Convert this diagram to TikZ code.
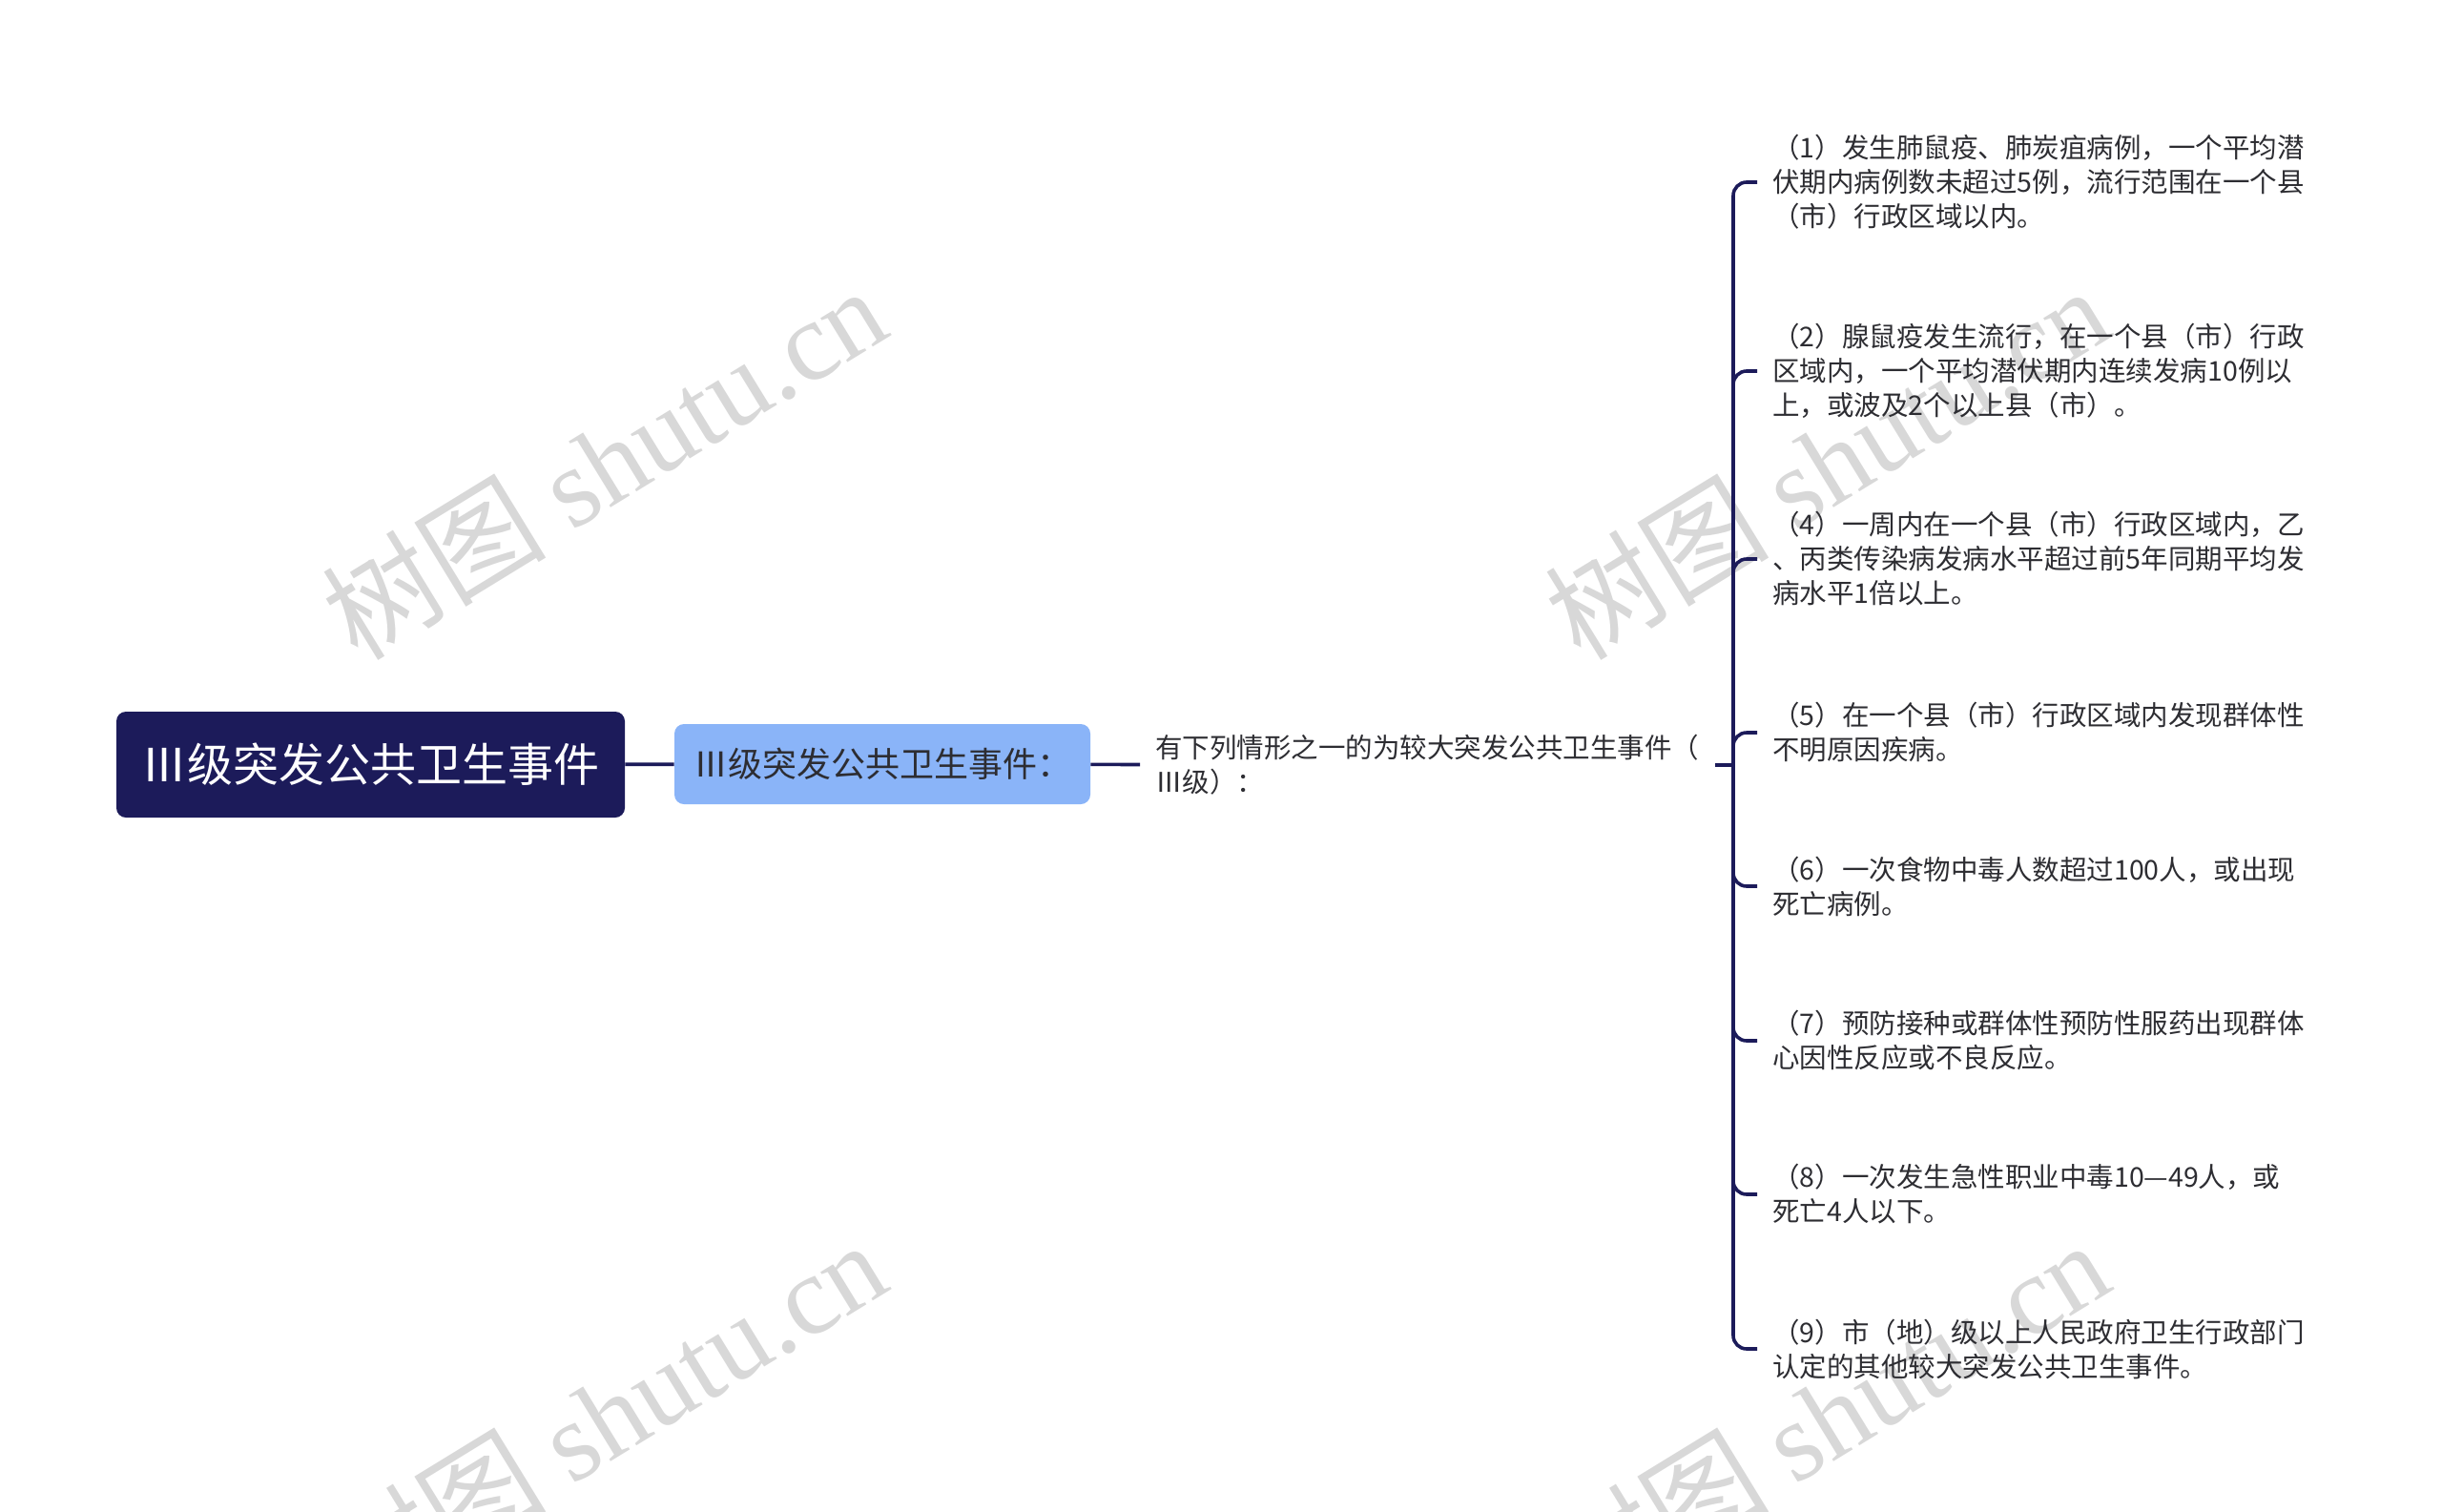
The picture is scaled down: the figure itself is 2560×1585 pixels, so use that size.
\documentclass[tikz,border=0pt]{standalone}
\usepackage{fontspec}
\setmainfont{Noto Sans CJK SC}
\newfontfamily\wmfont{Liberation Serif}
\definecolor{navy}{RGB}{28,27,90}
\definecolor{skyblue}{RGB}{138,180,248}
\definecolor{wmgray}{RGB}{216,216,216}
\definecolor{inkgray}{RGB}{45,45,50}

\begin{document}
\begin{tikzpicture}[x=0.5pt,y=-0.5pt]

%FRAME
\useasboundingbox (0,0) rectangle (2560,1585);

%WATERMARK
\tikzstyle{wm}=[text=wmgray,font=\fontsize{59}{59}\selectfont,rotate=31.5,anchor=base west,inner sep=0pt]
\begin{scope}
\clip (0,0) rectangle (2560,1585);
\node[wm] (wm1) at (375,695) {树图 {\wmfont shutu.cn}};
\node[wm] (wm2) at (1657,695) {树图 {\wmfont shutu.cn}};
\node[wm] (wm3) at (375,1695) {树图 {\wmfont shutu.cn}};
\node[wm] (wm4) at (1657,1695) {树图 {\wmfont shutu.cn}};
\end{scope}

%%%%%%%%%%%%%%%%%%%%%%%%%%%%%%%%%%%%%%%%%%%%%%%%%%%%%%%%%%%%%%
%nodes
\tikzstyle{root}=[rectangle,rounded corners=5pt,fill=navy,text=white,minimum width=266.5pt,minimum height=55.5pt,font=\fontsize{24}{28}\selectfont]
\tikzstyle{sub}=[rectangle,rounded corners=5pt,fill=skyblue,text=inkgray,minimum width=218pt,minimum height=42pt,font=\fontsize{18}{22}\selectfont]
\tikzstyle{leaf}=[align=left,anchor=west,inner xsep=8pt,inner ysep=2pt,text=inkgray,font=\fontsize{14.25}{18}\selectfont]
\tikzstyle{link}=[draw=navy,line width=1.8pt]

%root
\node[root] (root) at (388.5,801.5) {Ⅲ级突发公共卫生事件};
%sub
\node[sub] (sub) at (925,801) {Ⅲ级突发公共卫生事件：};
%intro
\node[leaf] (intro) at (1195,802) {有下列情形之一的为较大突发公共卫生事件（\\Ⅲ级）：};
\coordinate (hub) at (1817,802);

%items
\node[leaf] (item1) at (1842,191) {（1）发生肺鼠疫、肺炭疽病例，一个平均潜\\伏期内病例数未超过5例，流行范围在一个县\\（市）行政区域以内。};
\node[leaf] (item2) at (1842,389) {（2）腺鼠疫发生流行，在一个县（市）行政\\区域内，一个平均潜伏期内连续发病10例以\\上，或波及2个以上县（市）。};
\node[leaf] (item4) at (1842,586) {（4）一周内在一个县（市）行政区域内，乙\\、丙类传染病发病水平超过前5年同期平均发\\病水平1倍以上。};
\node[leaf] (item5) at (1842,768) {（5）在一个县（市）行政区域内发现群体性\\不明原因疾病。};
\node[leaf] (item6) at (1842,929) {（6）一次食物中毒人数超过100人，或出现\\死亡病例。};
\node[leaf] (item7) at (1842,1091) {（7）预防接种或群体性预防性服药出现群体\\心因性反应或不良反应。};
\node[leaf] (item8) at (1842,1252) {（8）一次发生急性职业中毒10—49人，或\\死亡4人以下。};
\node[leaf] (item9) at (1842,1414) {（9）市（地）级以上人民政府卫生行政部门\\认定的其他较大突发公共卫生事件。};

%%%%%%%%%%%%%%%%%%%%%%%%%%%%%%%%%%%%%%%%%%%%%%%%%%%%%%%%%%%%%%
%LINKS
\draw[link] (root) -- (sub);
\draw[link] (sub) -- (intro);
\draw[link] (intro.east) -- (hub);
%bracket
\foreach \i in {1,2,4,5,6,7,8,9}
  \draw[link,rounded corners=7pt] (hub) |- (item\i.west);
\end{tikzpicture}
\end{document}
